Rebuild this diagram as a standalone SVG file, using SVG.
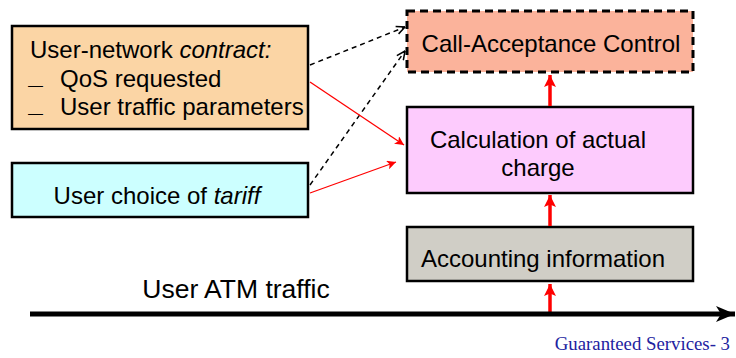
<svg xmlns="http://www.w3.org/2000/svg" width="736" height="358" viewBox="0 0 736 358">
<style>
  text { font-family: "Liberation Sans", Arial, sans-serif; fill: #000; }
  .lbl { font-size: 24px; }
  .bullet { font-size: 15px; }
  .box { stroke: #000; stroke-width: 2.5; }
  .dash { fill: none; stroke: #000; stroke-width: 1.5; stroke-dasharray: 5 4; }
  .red { fill: none; stroke: #ff0000; stroke-width: 1.3; }
  .redthick { fill: none; stroke: #ff0000; stroke-width: 3.5; }
  .footer { font-family: "Liberation Serif", "Times New Roman", serif; font-size: 18.8px; fill: #2222A0; }
</style>
<defs>
  <marker id="open" viewBox="0 0 10 10" refX="9.5" refY="5" markerWidth="10" markerHeight="10" markerUnits="userSpaceOnUse" orient="auto">
    <path d="M1,1 L9.5,5 L1,9" fill="none" stroke="#000" stroke-width="1.5"/>
  </marker>
  <marker id="redhead" viewBox="0 0 10 10" refX="10" refY="5" markerWidth="10" markerHeight="9" markerUnits="userSpaceOnUse" orient="auto">
    <path d="M0,0 L10,5 L0,10 L2.5,5 Z" fill="#ff0000"/>
  </marker>
  <marker id="redbig" viewBox="0 0 10 10" refX="10" refY="5" markerWidth="14" markerHeight="12" markerUnits="userSpaceOnUse" orient="auto">
    <path d="M0,0 L10,5 L0,10 L2,5 Z" fill="#ff0000"/>
  </marker>
  <marker id="blackhead" viewBox="0 0 20 16" refX="19" refY="8" markerWidth="20" markerHeight="16" markerUnits="userSpaceOnUse" orient="auto">
    <path d="M0,0 L19,8 L0,16 L5,8 Z" fill="#000"/>
  </marker>
</defs>

<g id="contract">
  <rect class="box" x="12" y="26" width="296" height="103" fill="#FBD5A5"/>
  <text class="lbl" x="30" y="58">User-network <tspan font-style="italic">contract:</tspan></text>
  <text class="bullet" x="28" y="90">—</text>
  <text class="lbl" x="60" y="87">QoS requested</text>
  <text class="bullet" x="28" y="118">—</text>
  <text class="lbl" x="60" y="115">User traffic parameters</text>
</g>

<g id="tariff">
  <rect class="box" x="12" y="163" width="296" height="54" fill="#CCFFFF"/>
  <text class="lbl" x="157" y="204" text-anchor="middle">User choice of <tspan font-style="italic">tariff</tspan></text>
</g>

<g id="cac">
  <rect x="407" y="11" width="286" height="61" fill="#FBB39B" stroke="#000" stroke-width="3" stroke-dasharray="8 5"/>
  <text class="lbl" x="551" y="52" text-anchor="middle">Call-Acceptance Control</text>
</g>

<g id="calc">
  <rect class="box" x="407" y="107" width="286" height="86" fill="#FDCBFD"/>
  <text class="lbl" x="538" y="148" text-anchor="middle">Calculation of actual</text>
  <text class="lbl" x="538" y="176" text-anchor="middle">charge</text>
</g>

<g id="accounting">
  <rect class="box" x="407" y="227" width="286" height="54" fill="#D0CEC6"/>
  <text class="lbl" x="543" y="267" text-anchor="middle">Accounting information</text>
</g>

<g id="traffic">
  <text x="236" y="298" font-size="26.5" text-anchor="middle">User ATM traffic</text>
</g>

<g id="connectors">
  <line class="dash" x1="310" y1="65" x2="405" y2="27" marker-end="url(#open)"/>
  <line class="dash" x1="310" y1="185" x2="405" y2="51" marker-end="url(#open)"/>
  <line class="red" x1="310" y1="82" x2="404" y2="145" marker-end="url(#redhead)"/>
  <line class="red" x1="310" y1="193" x2="396" y2="162" marker-end="url(#redhead)"/>
  <line class="redthick" x1="550" y1="106" x2="550" y2="75" marker-end="url(#redbig)"/>
  <line class="redthick" x1="550" y1="226" x2="550" y2="195" marker-end="url(#redbig)"/>
  <line class="redthick" x1="550" y1="312" x2="550" y2="284" marker-end="url(#redbig)"/>
  <line x1="30" y1="314" x2="735" y2="314" stroke="#000" stroke-width="5" marker-end="url(#blackhead)"/>
</g>

<text class="footer" x="730" y="350" text-anchor="end">Guaranteed Services- 3</text>
</svg>
